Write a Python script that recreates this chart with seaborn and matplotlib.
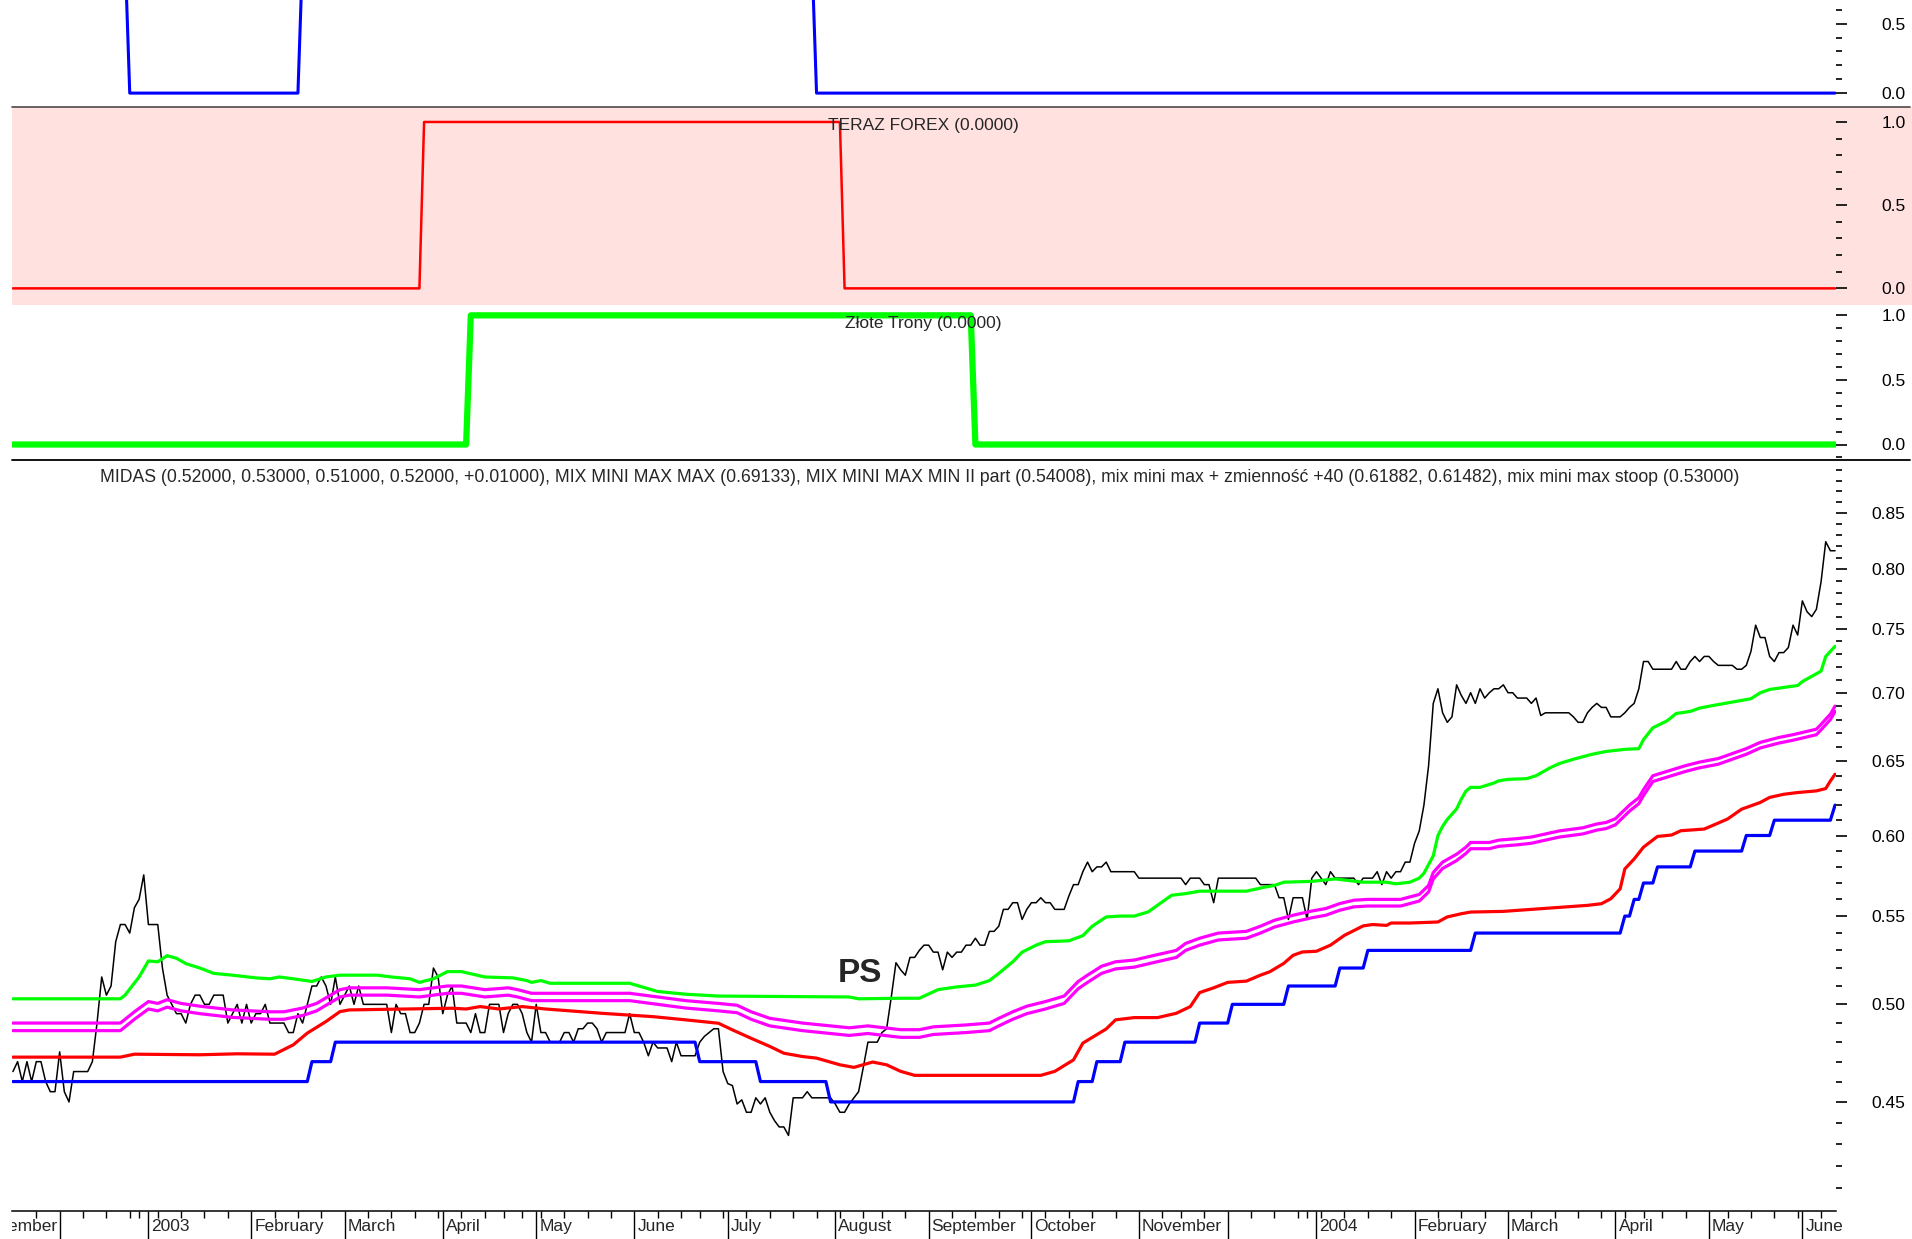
import numpy as np
import pandas as pd
import matplotlib
matplotlib.use("Agg")
import matplotlib.pyplot as plt
import matplotlib.ticker as mticker
from matplotlib.lines import Line2D
from matplotlib.patches import Rectangle
from matplotlib.transforms import Bbox
import seaborn as sns

# ------------------------------------------------------------
# Sesje GPW 2002-11-18 .. 2004-06-11
# ------------------------------------------------------------
holidays = ["2002-12-24", "2002-12-25", "2002-12-26", "2003-01-01",
            "2003-04-18", "2003-04-21", "2003-05-01", "2003-06-19",
            "2003-08-15", "2003-11-11", "2003-12-24", "2003-12-25",
            "2003-12-26", "2003-12-31", "2004-01-01", "2004-04-09",
            "2004-04-12", "2004-05-03", "2004-06-10"]
dates = pd.bdate_range("2002-11-18", "2004-06-11", freq="C", holidays=holidays)
session = np.arange(len(dates))

# ------------------------------------------------------------
# MIDAS - kurs zamkniecia (odczyt z wykresu)
# ------------------------------------------------------------
close_2002_11 = [0.465, 0.47, 0.46, 0.47, 0.46, 0.47, 0.47, 0.46, 0.455, 0.455]
close_2002_12 = [0.475, 0.455, 0.45, 0.465, 0.465, 0.465, 0.465, 0.47, 0.49, 0.515,
                 0.505, 0.51, 0.535, 0.545, 0.545, 0.54, 0.555, 0.56, 0.575]
close_2003_01 = [0.545, 0.545, 0.545, 0.52, 0.505, 0.50, 0.495, 0.495, 0.49, 0.50, 0.505,
                 0.505, 0.50, 0.50, 0.505, 0.505, 0.505, 0.49, 0.495, 0.50, 0.49, 0.50]
close_2003_02 = [0.49, 0.495, 0.495, 0.50, 0.49, 0.49, 0.49, 0.49, 0.485, 0.485,
                 0.495, 0.49, 0.50, 0.51, 0.51, 0.515, 0.51, 0.50, 0.515, 0.50]
close_2003_03 = [0.505, 0.51, 0.50, 0.51, 0.50, 0.50, 0.50, 0.50, 0.50, 0.50, 0.485,
                 0.50, 0.495, 0.495, 0.485, 0.485, 0.49, 0.50, 0.50, 0.52, 0.515]
close_2003_04 = [0.495, 0.505, 0.51, 0.49, 0.49, 0.49, 0.485, 0.495, 0.485, 0.485,
                 0.50, 0.50, 0.50, 0.485, 0.495, 0.50, 0.50, 0.495, 0.485, 0.48]
close_2003_05 = [0.50, 0.485, 0.485, 0.48, 0.48, 0.48, 0.485, 0.485, 0.48, 0.487, 0.487,
                 0.49, 0.49, 0.487, 0.48, 0.485, 0.485, 0.485, 0.485, 0.485, 0.495]
close_2003_06 = [0.485, 0.485, 0.48, 0.473, 0.48, 0.477, 0.477, 0.477, 0.47, 0.48,
                 0.473, 0.473, 0.473, 0.473, 0.48, 0.483, 0.485, 0.487, 0.487, 0.465]
close_2003_07 = [0.459, 0.458, 0.449, 0.451, 0.445, 0.445, 0.452, 0.449, 0.452, 0.445,
                 0.441, 0.438, 0.438, 0.434, 0.452, 0.452, 0.452, 0.455, 0.452, 0.452,
                 0.452, 0.452, 0.452]
close_2003_08 = [0.449, 0.445, 0.445, 0.449, 0.452, 0.455, 0.467, 0.48, 0.48, 0.48,
                 0.485, 0.487, 0.504, 0.523, 0.519, 0.516, 0.526, 0.526, 0.53, 0.533]
close_2003_09 = [0.533, 0.529, 0.529, 0.519, 0.529, 0.526, 0.529, 0.529, 0.533, 0.533, 0.537,
                 0.533, 0.533, 0.541, 0.541, 0.544, 0.554, 0.554, 0.558, 0.558, 0.548, 0.554]
close_2003_10 = [0.558, 0.558, 0.561, 0.558, 0.558, 0.554, 0.554, 0.554, 0.562, 0.569, 0.569,
                 0.577, 0.583, 0.577, 0.58, 0.58, 0.583, 0.577, 0.577, 0.577, 0.577, 0.577,
                 0.577]
close_2003_11 = [0.573, 0.573, 0.573, 0.573, 0.573, 0.573, 0.573, 0.573, 0.573, 0.573,
                 0.569, 0.573, 0.573, 0.573, 0.569, 0.569, 0.558, 0.573, 0.573]
close_2003_12 = [0.573, 0.573, 0.573, 0.573, 0.573, 0.573, 0.573, 0.569, 0.569, 0.569,
                 0.569, 0.561, 0.561, 0.548, 0.561, 0.561, 0.561, 0.548, 0.573]
close_2004_01 = [0.577, 0.573, 0.569, 0.577, 0.573, 0.573, 0.573, 0.573, 0.573, 0.569, 0.573,
                 0.573, 0.573, 0.577, 0.569, 0.577, 0.573, 0.577, 0.577, 0.583, 0.583]
close_2004_02 = [0.595, 0.603, 0.62, 0.647, 0.692, 0.703, 0.685, 0.678, 0.682, 0.706,
                 0.698, 0.692, 0.70, 0.692, 0.703, 0.696, 0.70, 0.703, 0.703, 0.706]
close_2004_03 = [0.70, 0.70, 0.696, 0.696, 0.696, 0.692, 0.696, 0.683, 0.685, 0.685, 0.685,
                 0.685, 0.685, 0.685, 0.682, 0.678, 0.678, 0.685, 0.689, 0.692, 0.689,
                 0.689, 0.682]
close_2004_04 = [0.682, 0.682, 0.685, 0.689, 0.692, 0.703, 0.724, 0.724, 0.718, 0.718,
                 0.718, 0.718, 0.718, 0.724, 0.718, 0.718, 0.724, 0.728, 0.724, 0.728]
close_2004_05 = [0.728, 0.724, 0.721, 0.721, 0.721, 0.721, 0.718, 0.718, 0.721, 0.732,
                 0.753, 0.743, 0.743, 0.728, 0.724, 0.731, 0.731, 0.735, 0.753, 0.745]
close_2004_06 = [0.773, 0.764, 0.76, 0.766, 0.789, 0.824, 0.816, 0.816]

close = np.concatenate([close_2002_11, close_2002_12, close_2003_01, close_2003_02,
                        close_2003_03, close_2003_04, close_2003_05, close_2003_06,
                        close_2003_07, close_2003_08, close_2003_09, close_2003_10,
                        close_2003_11, close_2003_12, close_2004_01, close_2004_02,
                        close_2004_03, close_2004_04, close_2004_05, close_2004_06])

# MIX MINI MAX MAX (zielona)
max_session = [0, 23, 24, 27, 29, 31, 33, 35, 37, 40, 43, 47, 52, 55, 57, 60, 64, 67, 70, 78,
               81, 85, 87, 90, 93, 96, 101, 107, 110, 111, 113, 115, 132, 138, 144, 151, 179,
               181, 190, 194, 198, 202, 206, 209, 211, 214, 216, 219, 221, 226, 229, 231, 234,
               237, 240, 243, 245, 248, 251, 254, 264, 268, 270, 272, 278, 283, 289, 294, 296,
               299, 301, 302, 304, 305, 306, 307, 309, 310, 311, 312, 314, 317, 318, 320, 324,
               326, 329, 331, 334, 338, 341, 345, 348, 349, 351, 354, 356, 359, 361, 364, 368,
               372, 374, 376, 380, 382, 383, 385, 387, 388, 389, 390]
max_value = [0.503, 0.503, 0.505, 0.515, 0.524, 0.5235, 0.527, 0.5255, 0.5225, 0.520,
             0.517, 0.516, 0.5145, 0.514, 0.515, 0.514, 0.5125, 0.515, 0.516, 0.516,
             0.515, 0.514, 0.512, 0.514, 0.518, 0.518, 0.515, 0.5145, 0.513, 0.512,
             0.513, 0.5115, 0.5115, 0.507, 0.5055, 0.5045, 0.504, 0.503, 0.5033, 0.5033,
             0.508, 0.5095, 0.5105, 0.513, 0.517, 0.5235, 0.529, 0.533, 0.535, 0.5355,
             0.5385, 0.544, 0.5495, 0.550, 0.550, 0.5525, 0.5565, 0.5625, 0.5635, 0.565,
             0.565, 0.5675, 0.5685, 0.5705, 0.571, 0.5725, 0.5705, 0.5705, 0.5695, 0.5705,
             0.573, 0.576, 0.587, 0.600, 0.606, 0.6105, 0.6175, 0.624, 0.6295, 0.632,
             0.632, 0.635, 0.6365, 0.6375, 0.638, 0.640, 0.6455, 0.6485, 0.6515, 0.655,
             0.657, 0.6585, 0.659, 0.6655, 0.674, 0.679, 0.6845, 0.686, 0.6885, 0.6905,
             0.693, 0.6955, 0.700, 0.7025, 0.7045, 0.7055, 0.7085, 0.7125, 0.7165, 0.728,
             0.732, 0.736]

# mix mini max + zmiennosc +40 (dwie linie fioletowe)
zm_session = [0, 23, 26, 29, 31, 33, 36, 40, 47, 55, 58, 62, 65, 68, 70, 72, 80, 87, 90, 93,
              96, 101, 106, 108, 111, 132, 138, 144, 151, 155, 158, 162, 169, 179, 183, 190,
              194, 197, 204, 209, 211, 214, 217, 221, 225, 228, 230, 233, 236, 240, 244, 249,
              251, 254, 258, 264, 267, 270, 274, 278, 281, 284, 287, 290, 297, 299, 301, 303,
              304, 306, 309, 311, 312, 316, 318, 322, 325, 328, 331, 336, 339, 341, 343, 344,
              346, 348, 349, 351, 354, 358, 361, 365, 368, 371, 374, 378, 381, 386, 387, 389,
              390]
zm_upper = [0.490, 0.490, 0.496, 0.5015, 0.5005, 0.5025, 0.5005, 0.499, 0.497, 0.496,
            0.496, 0.498, 0.5005, 0.505, 0.508, 0.509, 0.509, 0.508, 0.509, 0.510,
            0.510, 0.508, 0.509, 0.508, 0.506, 0.506, 0.504, 0.502, 0.5005, 0.4995,
            0.496, 0.4925, 0.490, 0.4875, 0.4885, 0.4865, 0.4865, 0.488, 0.489, 0.490,
            0.4925, 0.496, 0.499, 0.5015, 0.5045, 0.5125, 0.516, 0.521, 0.5235, 0.5245,
            0.527, 0.530, 0.534, 0.537, 0.540, 0.541, 0.544, 0.5475, 0.5505, 0.553,
            0.5545, 0.5575, 0.5595, 0.560, 0.560, 0.5615, 0.563, 0.5685, 0.5765, 0.583,
            0.588, 0.5925, 0.5955, 0.5955, 0.597, 0.598, 0.599, 0.601, 0.603, 0.605,
            0.6075, 0.6085, 0.611, 0.614, 0.620, 0.625, 0.6305, 0.640, 0.643, 0.647,
            0.6495, 0.652, 0.6555, 0.659, 0.6635, 0.667, 0.669, 0.673, 0.6765, 0.684,
            0.690]
zm_lower = [0.486, 0.486, 0.492, 0.4975, 0.4965, 0.4985, 0.4965, 0.495, 0.493, 0.492,
            0.492, 0.494, 0.4965, 0.501, 0.504, 0.505, 0.505, 0.504, 0.505, 0.506,
            0.506, 0.504, 0.505, 0.504, 0.502, 0.502, 0.500, 0.498, 0.4965, 0.4955,
            0.492, 0.4885, 0.486, 0.4835, 0.4845, 0.4825, 0.4825, 0.484, 0.485, 0.486,
            0.4885, 0.492, 0.495, 0.4975, 0.5005, 0.5085, 0.512, 0.517, 0.5195, 0.5205,
            0.523, 0.526, 0.530, 0.533, 0.536, 0.537, 0.540, 0.5435, 0.5465, 0.549,
            0.5505, 0.5535, 0.5555, 0.556, 0.556, 0.5575, 0.559, 0.5645, 0.5725, 0.579,
            0.584, 0.5885, 0.5915, 0.5915, 0.593, 0.594, 0.595, 0.597, 0.599, 0.601,
            0.6035, 0.6045, 0.607, 0.610, 0.616, 0.621, 0.6265, 0.636, 0.639, 0.643,
            0.6455, 0.648, 0.6515, 0.655, 0.6595, 0.663, 0.665, 0.669, 0.6725, 0.680,
            0.686]

# MIX MINI MAX MIN II part (czerwona)
min_session = [0, 23, 26, 40, 48, 56, 60, 63, 67, 70, 72, 94, 97, 100, 104, 109, 114, 126,
               137, 144, 151, 154, 158, 162, 165, 169, 172, 177, 180, 184, 187, 190, 193,
               220, 223, 227, 229, 234, 236, 240, 245, 249, 252, 254, 257, 260, 264, 267,
               269, 272, 274, 276, 279, 282, 285, 289, 291, 294, 295, 299, 305, 307, 310,
               312, 319, 325, 332, 337, 340, 342, 344, 345, 347, 349, 352, 355, 357, 362,
               364, 367, 370, 374, 376, 379, 382, 386, 388, 389, 390]
min_value = [0.4723, 0.4723, 0.4738, 0.4735, 0.474, 0.4738, 0.4786, 0.4847, 0.4908, 0.4961,
             0.497, 0.4979, 0.4975, 0.4988, 0.4975, 0.4988, 0.4975, 0.4952, 0.4934, 0.4917,
             0.4899, 0.4864, 0.482, 0.4778, 0.4743, 0.4726, 0.4718, 0.4684, 0.4671, 0.4698,
             0.4684, 0.4651, 0.4631, 0.4631, 0.4651, 0.4709, 0.4795, 0.4869, 0.4917, 0.4929,
             0.4929, 0.4952, 0.4988, 0.5064, 0.509, 0.512, 0.5127, 0.516, 0.5179, 0.5226,
             0.5272, 0.5291, 0.5295, 0.533, 0.5387, 0.5442, 0.545, 0.5445, 0.5459, 0.5459,
             0.5465, 0.5495, 0.5514, 0.5524, 0.5528, 0.554, 0.5554, 0.5564, 0.5574, 0.5604,
             0.5664, 0.5787, 0.585, 0.5925, 0.5994, 0.6003, 0.6031, 0.6042, 0.6068, 0.6108,
             0.6173, 0.6218, 0.6252, 0.6273, 0.6285, 0.6296, 0.6312, 0.6364, 0.641]

# mix mini max stoop (niebieska, schodkowa): sesja zmiany -> poziom
stoop_from = [0, 64, 69, 147, 160, 175, 228, 232, 238, 254, 261, 273, 284, 290, 313, 345,
              347, 349, 352, 360, 371, 377, 390]
stoop_level = [0.46, 0.47, 0.48, 0.47, 0.46, 0.45, 0.46, 0.47, 0.48, 0.49, 0.50, 0.51,
               0.52, 0.53, 0.54, 0.55, 0.56, 0.57, 0.58, 0.59, 0.60, 0.61, 0.62]

# sygnaly 0/1 w panelach
signal_from = [0, 25, 62, 172]
signal_level = [1, 0, 1, 0]
forex_from = [0, 88, 178]
forex_level = [0, 1, 0]
trony_from = [0, 98, 206]
trony_level = [0, 1, 0]


def steps(starts, levels, n):
    out = np.empty(n)
    ends = list(starts[1:]) + [n]
    for s, e, v in zip(starts, ends, levels):
        out[s:e] = v
    return out


n = len(session)
stoop = steps(stoop_from, stoop_level, n)
signal = steps(signal_from, signal_level, n)
forex = steps(forex_from, forex_level, n)
trony = steps(trony_from, trony_level, n)

# ------------------------------------------------------------
# Wyglad
# ------------------------------------------------------------
sns.set_theme(style="white")
plt.rcParams["font.family"] = ["Liberation Sans", "DejaVu Sans"]
FS = 12.5

W, H = 1912, 1239
fig = plt.figure(figsize=(W / 100, H / 100), dpi=100)
fig.patch.set_facecolor("white")


def panel(top, bottom):
    ax = fig.add_axes([12 / W, 1 - bottom / H, 1824 / W, (bottom - top) / H])
    ax.set_facecolor("none")
    for s in ax.spines.values():
        s.set_visible(False)
    return ax


def right_ticks(ax, major, minor, fmt):
    ax.yaxis.set_major_locator(mticker.FixedLocator(major))
    ax.yaxis.set_minor_locator(mticker.FixedLocator(minor))
    ax.yaxis.set_major_formatter(mticker.FuncFormatter(lambda v, p: fmt.format(v)))
    ax.yaxis.set_minor_formatter(mticker.NullFormatter())
    ax.tick_params(axis="y", which="both", left=False, labelleft=False, right=True,
                   labelright=True, direction="out", width=1.2, color="black")
    ax.tick_params(axis="y", which="major", length=8, pad=42, labelsize=FS,
                   labelcolor="black")
    ax.tick_params(axis="y", which="minor", length=4.3)
    plt.setp(ax.get_yticklabels(), ha="right")
    ax.set_xlabel("")
    ax.set_ylabel("")


# pink background behind TERAZ FOREX panel
fig.add_artist(Rectangle((12 / W, 1 - 305 / H), (W - 12) / W, 198 / H,
                         transform=fig.transFigure, facecolor="#ffe2e0",
                         edgecolor="none", zorder=-1))

ax1 = panel(0, 107)
ax2 = panel(107, 305)
ax3 = panel(305, 460)
ax4 = panel(460, 1211)

# panel 1
sns.lineplot(x=session, y=signal, ax=ax1, color="#0000ff", linewidth=2.2)
ax1.set_ylim(-0.10, 0.67)
right_ticks(ax1, [0.0, 0.5], [0.1, 0.2, 0.3, 0.4, 0.6], "{:.1f}")

# panel 2
sns.lineplot(x=session, y=forex, ax=ax2, color="#ff0000", linewidth=1.8)
ax2.set_ylim(-0.10, 1.09)
right_ticks(ax2, [0.0, 0.5, 1.0],
            [0.1, 0.2, 0.3, 0.4, 0.6, 0.7, 0.8, 0.9], "{:.1f}")

# panel 3
sns.lineplot(x=session, y=trony, ax=ax3, color="#00ff00", linewidth=4.5)
ax3.set_ylim(-0.12, 1.08)
right_ticks(ax3, [0.0, 0.5, 1.0],
            [-0.1, 0.1, 0.2, 0.3, 0.4, 0.6, 0.7, 0.8, 0.9], "{:.1f}")

# main panel
sns.lineplot(x=session, y=close, ax=ax4, color="black", linewidth=1.1)
sns.lineplot(x=max_session, y=max_value, ax=ax4, color="#00ff00", linewidth=2.3)
sns.lineplot(x=min_session, y=min_value, ax=ax4, color="#ff0000", linewidth=2.3)
sns.lineplot(x=zm_session, y=zm_upper, ax=ax4, color="#ff00ff", linewidth=2.3)
sns.lineplot(x=zm_session, y=zm_lower, ax=ax4, color="#ff00ff", linewidth=2.3)
sns.lineplot(x=session, y=stoop, ax=ax4, color="#0000ff", linewidth=2.3)
ax4.set_yscale("log")
ax4.set_ylim(0.40, 0.90)
main_major = [0.45, 0.50, 0.55, 0.60, 0.65, 0.70, 0.75, 0.80, 0.85]
main_minor = [v / 100 for v in range(40, 91) if v % 5 != 0]
right_ticks(ax4, main_major, main_minor, "{:.2f}")
ax4.text(181.3, 0.517, "PS", fontsize=24, fontweight="bold", ha="center", va="center")

for ax in (ax1, ax2, ax3, ax4):
    ax.set_xlim(-0.2, session[-1] + 0.2)
    ax.tick_params(axis="x", which="both", bottom=False, top=False, labelbottom=False)

# x axis: month boundaries and weekly ticks
month_start = [i for i in range(1, n) if dates[i].month != dates[i - 1].month]
week_start = [i for i in range(1, n) if dates[i].isocalendar()[1] != dates[i - 1].isocalendar()[1]]
ax4.spines["bottom"].set_visible(True)
ax4.spines["bottom"].set_color("black")
ax4.spines["bottom"].set_linewidth(1.1)
ax4.xaxis.set_major_locator(mticker.FixedLocator(month_start))
ax4.xaxis.set_minor_locator(mticker.FixedLocator(week_start))
ax4.tick_params(axis="x", which="major", bottom=True, length=20, width=1.0,
                direction="out", color="black")
ax4.tick_params(axis="x", which="minor", bottom=True, length=5, width=1.0,
                direction="out", color="black")

xax = ax4.get_xaxis_transform()
for i in month_start:
    d = dates[i]
    if d.month == 12:
        continue
    label = str(d.year) if d.month == 1 else d.strftime("%B")
    ax4.annotate(label, xy=(i, 0), xycoords=xax, xytext=(3, -20),
                 textcoords="offset pixels", ha="left", va="baseline",
                 fontsize=FS, annotation_clip=False)
first = ax4.annotate(dates[0].strftime("%B"), xy=(month_start[0], 0), xycoords=xax,
                     xytext=(-2, -20), textcoords="offset pixels", ha="right",
                     va="baseline", fontsize=FS, annotation_clip=False)
first.set_clip_box(Bbox.from_extents(12, 0, W, H))
first.set_clip_on(True)

# separators
fig.add_artist(Line2D([12 / W, 1910 / W], [1 - 107 / H] * 2, transform=fig.transFigure,
                      color="#5e5656", linewidth=1.3))
fig.add_artist(Line2D([12 / W, 1910 / W], [1 - 460 / H] * 2, transform=fig.transFigure,
                      color="black", linewidth=1.3))

# panel captions
fig.text(923 / W, 1 - 130 / H, "TERAZ FOREX (0.0000)", ha="center", va="baseline",
         fontsize=FS)
fig.text(923 / W, 1 - 328 / H, "Złote Trony (0.0000)", ha="center", va="baseline",
         fontsize=FS)
fig.text(920 / W, 1 - 482 / H,
         "MIDAS (0.52000, 0.53000, 0.51000, 0.52000, +0.01000), MIX MINI MAX MAX (0.69133), "
         "MIX MINI MAX MIN II part (0.54008), mix mini max + zmienność +40 (0.61882, 0.61482), "
         "mix mini max stoop (0.53000)",
         ha="center", va="baseline", fontsize=12.7)

fig.savefig("out.png", dpi=100)
